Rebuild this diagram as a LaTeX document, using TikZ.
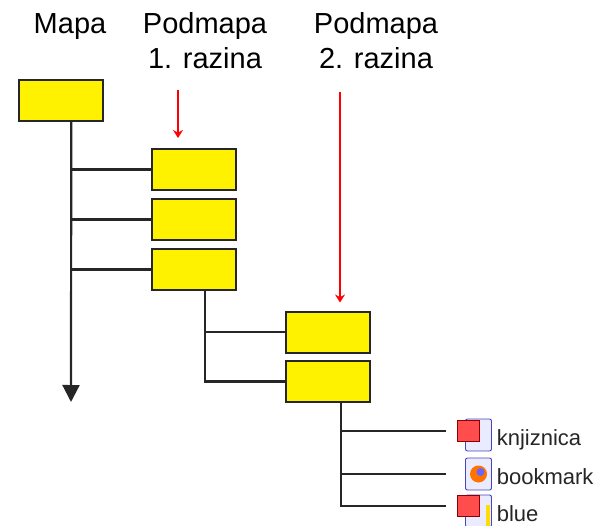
\documentclass[tikz,border=0pt]{standalone}
\usepackage{fontspec}
\setmainfont{Liberation Sans}
\usetikzlibrary{arrows.meta,calc}

\tikzset{
  folder/.style={draw=black!85,fill=yellow,line width=2pt,minimum width=84pt,minimum height=41pt,inner sep=0pt},
  title/.style={align=center,inner sep=0pt,font=\fontsize{29}{35}\selectfont},
  tree/.style={draw=black!85,line width=2.2pt},
  pointer/.style={draw=red,line width=1.6pt,-{Stealth[width=10pt,length=8pt]}},
  page/.style={draw=blue!45!gray,fill=blue!8,line width=0.9pt,rounded corners=2pt,minimum width=26pt,minimum height=32pt,inner sep=0pt},
  badge/.style={draw=red!55!black,fill=red!70!white,line width=0.9pt,minimum width=22pt,minimum height=21pt,inner sep=0pt},
  fileName/.style={anchor=base west,inner sep=0pt,text=black!85,font=\fontsize{22}{26}\selectfont}
}

\begin{document}
\begin{tikzpicture}[x=1pt,y=-1pt,line width=1.6pt]
\useasboundingbox (0,0) rectangle (604,526);

% titles
\node[title,anchor=base] (mapTitle) at (70,34) {Mapa};
\node[title,anchor=base] (lvlOne) at (205,69) {Podmapa\\1. razina};
\node[title,anchor=base] (lvlTwo) at (376,69) {Podmapa\\2. razina};

% folders
\node[folder] (map) at (60.5,100.5) {};
\node[folder] (subA) at (194,169.5) {};
\node[folder] (subB) at (194,219.5) {};
\node[folder] (subC) at (194,269.5) {};
\node[folder] (subsubA) at (327.5,332) {};
\node[folder] (subsubB) at (327.5,381.5) {};

% files
\node[page] (iconA) at (478.5,435) {};
\node[badge] (badgeA) at (468.5,431) {};
\node[fileName] (knjiznica) at (496,445) {knjiznica};

\node[page] (iconB) at (478.5,474) {};
\fill[orange!90!red] (iconB.center) circle (8.5pt);
\fill[blue!60!white] ([xshift=2pt,yshift=2pt]iconB.center) circle (4pt);
\node[fileName] (bookmark) at (496,484) {bookmark};

\node[page] (iconC) at (478.5,511) {};
\node[badge] (badgeC) at (468.5,506) {};
\fill[yellow!80!orange] ([xshift=-6pt,yshift=-10pt]iconC.north east) rectangle ([xshift=-2pt]iconC.south east);
\node[fileName] (blue) at (496,521) {blue};

% main trunk
\coordinate (mapFoot) at ($(map.south west)!.625!(map.south east)$);
\coordinate (mapEnd) at (71,402);
\draw[tree,-{Triangle[width=17pt,length=17pt]}] (mapFoot) -- (mapEnd);
\draw[tree] (subA.west) -- (subA.west -| mapFoot);
\draw[tree] (subB.west) -- (subB.west -| mapFoot);
\draw[tree] (subC.west) -- (subC.west -| mapFoot);

% second level
\coordinate (subFoot) at ($(subC.south west)!.63!(subC.south east)$);
\draw[tree] (subFoot) |- (subsubB.west);
\draw[tree] (subsubA.west) -- (subsubA.west -| subFoot);

% files
\coordinate (subsubFoot) at ($(subsubB.south west)!.66!(subsubB.south east)$);
\draw[tree,shorten >=11pt] (subsubFoot) |- (badgeA.west);
\draw[tree,shorten >=19pt] (subsubFoot) |- (iconB.west);
\draw[tree,shorten >=11pt] (subsubFoot) |- (badgeC.west);

% red pointers
\coordinate (pinA) at (178,90);
\coordinate (pinB) at (340,92);
\draw[pointer,shorten >=10pt] (pinA) -- (pinA |- subA.north);
\draw[pointer,shorten >=8pt] (pinB) -- (pinB |- subsubA.north);

\end{tikzpicture}
\end{document}
